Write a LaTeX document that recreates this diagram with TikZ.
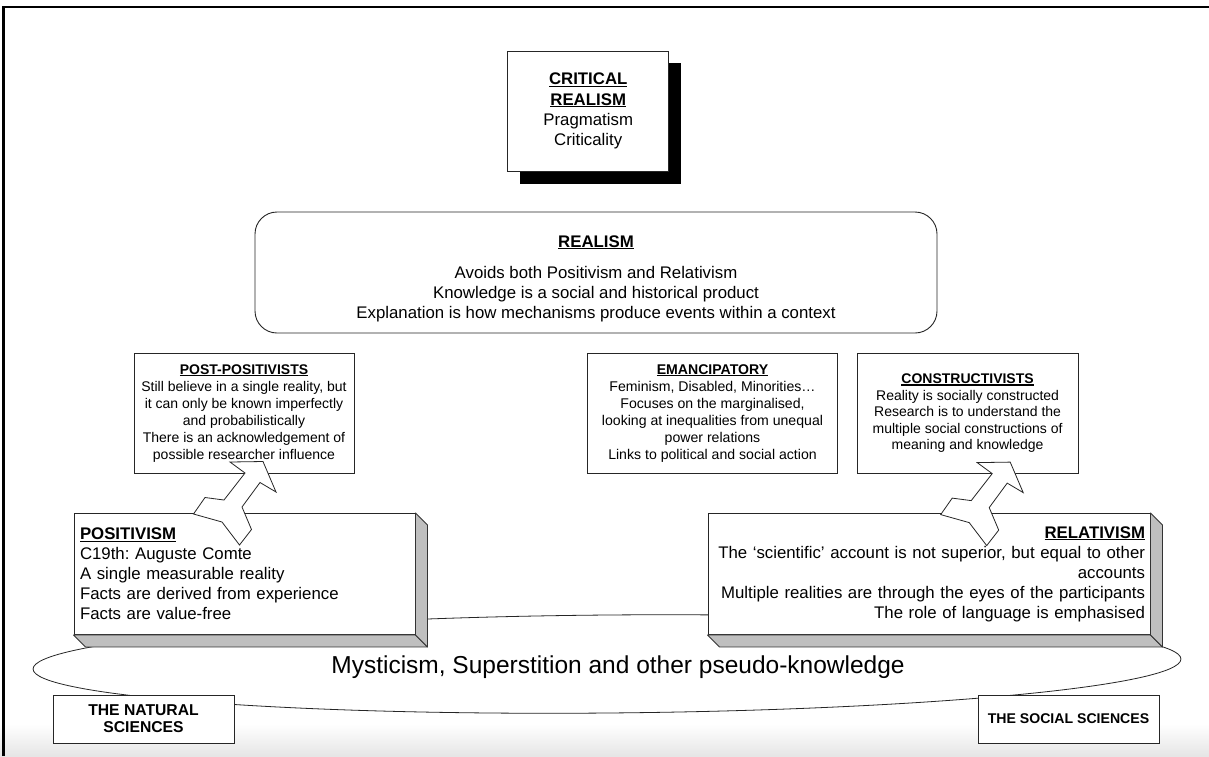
\documentclass[tikz,border=0pt]{standalone}
\usepackage{fontspec}
\setmainfont{Liberation Sans}
\usetikzlibrary{shapes.geometric,calc,shadows}
\frenchspacing

% underlined bold heading with a firmer rule than \underline
\newsavebox{\hdrbox}
\newcommand{\hdr}[1]{\sbox{\hdrbox}{\bfseries #1}\rlap{\rule[-0.13em]{\wd\hdrbox}{0.085em}}\usebox{\hdrbox}}
\newcommand{\setfs}[2]{\fontsize{#1pt}{#2pt}\selectfont}

\begin{document}
\begin{tikzpicture}[x=1pt,y=-1pt,
  frame/.style={draw=black!85, line width=0.9pt, fill=white, inner sep=0pt, align=center},
  bevelface/.style={draw=black!80, line width=0.9pt, fill=black!25, line join=round},
  zig/.style={draw=black!85, line width=0.8pt, fill=white, line join=miter},
  zigzag/.pic={
    \draw[zig] (-4.5,-41.4) -- (28.5,-41.9) -- (41.5,-11.4) -- (25.5,-20.9)
      -- (7.5,3.6) -- (17,26.1) -- (5,41.6) -- (-12.5,18.6) -- (-41,10.6)
      -- (-29.5,-5.9) -- (-10.5,-3.4) -- (10.5,-30.4) -- cycle;
  },
]
\useasboundingbox (0,0) rectangle (1209,756);
\fill[white] (0,0) rectangle (1209,756);
\shade[top color=white, bottom color=black!10] (0,724) rectangle (1209,756);
\draw[line width=2.2pt] (3.5,756) -- (3.5,6.8) -- (1209,6.8);

% the pseudo-knowledge base, lying under the two main positions
\node[ellipse, draw=black!85, line width=0.8pt, minimum width=1148pt, minimum height=98pt,
      inner sep=0pt, rotate=0.5] (base) at (607,664) {};

% critical realism at the top, with a solid drop shadow
\node[frame, minimum width=161pt, minimum height=120.7pt, font=\setfs{16.8}{20.3},
      drop shadow={shadow xshift=12pt, shadow yshift=-12pt, fill=black, opacity=1}]
  (crit) at (588.2,111.3) {\hdr{CRITICAL}\\\hdr{REALISM}\\Pragmatism\\Criticality};

% realism
\node[frame, rounded corners=22pt, minimum width=682pt, minimum height=121pt] (realism) at (596,272.5) {};
\node[align=center, inner sep=0pt, font=\setfs{16.8}{20}] (realismtext) at (596,278.5)
  {\hdr{REALISM}\\[11pt]Avoids both Positivism and Relativism\\Knowledge is a social and historical product\\Explanation is how mechanisms produce events within a context};

% the three middle schools
\node[frame, minimum width=220pt, minimum height=120pt, font=\setfs{14}{17}] (postpos) at (244,413.3)
  {\hdr{POST-POSITIVISTS}\\Still believe in a single reality, but\\it can only be known imperfectly\\and probabilistically\\There is an acknowledgement of\\possible researcher influence};
\node[frame, minimum width=249.6pt, minimum height=120pt, font=\setfs{14.1}{17}] (emancip) at (712.5,413.3)
  {\hdr{EMANCIPATORY}\\Feminism, Disabled, Minorities…\\Focuses on the marginalised,\\looking at inequalities from unequal\\power relations\\Links to political and social action};
\node[frame, minimum width=220.7pt, minimum height=120pt, font=\setfs{14}{16.5}] (construct) at (967.6,413.3)
  {\hdr{CONSTRUCTIVISTS}\\Reality is socially constructed\\Research is to understand the\\multiple social constructions of\\meaning and knowledge};

% positivism and relativism as bevelled blocks
\node[frame, minimum width=341pt, minimum height=121pt, text width=329pt, align=left,
      font=\setfs{16.8}{20}] (posit) at (244.5,574)
  {\hdr{POSITIVISM}\\C19th: Auguste Comte\\A single measurable reality\\Facts are derived from experience\\Facts are value-free};
\node[frame, minimum width=442pt, minimum height=121pt, text width=432pt, align=right,
      font=\setfs{16.8}{20}] (relat) at (929,574)
  {\hdr{RELATIVISM}\\The ‘scientific’ account is not superior, but equal to other\\accounts\\Multiple realities are through the eyes of the participants\\The role of language is emphasised};
\foreach \b in {posit,relat}{
  \draw[bevelface] (\b.south west) -- (\b.south east) -- ++(12,12) -- ($(\b.south west)+(12,12)$) -- cycle;
  \draw[bevelface] (\b.north east) -- ++(12,12) -- ($(\b.south east)+(12,12)$) -- (\b.south east) -- cycle;
}

% the two families of science
\node[frame, minimum width=181pt, minimum height=48pt, font=\setfs{15.7}{16.7}\bfseries] (natsci) at (143.5,719) {THE NATURAL\\SCIENCES};
\node[frame, minimum width=181pt, minimum height=48pt, font=\setfs{14.1}{17}\bfseries] (socsci) at (1068.5,719) {THE SOCIAL SCIENCES};

\node[inner sep=0pt, font=\setfs{24.5}{29}] (basetext) at (618,667) {Mysticism, Superstition and other pseudo-knowledge};

% zig-zag arrows linking the positions
\pic at (234.5,503.4) {zigzag};
\begin{scope}[shift={(981.7,504)}, xscale=-1]
  \pic {zigzag};
\end{scope}
\end{tikzpicture}
\end{document}
